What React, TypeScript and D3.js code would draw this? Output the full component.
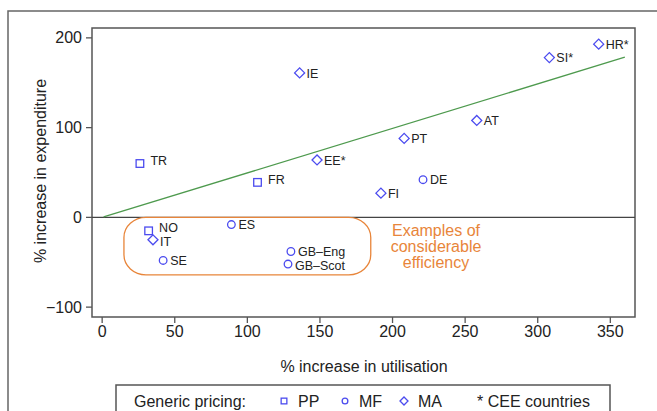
import React from "react";
import { scaleLinear, line } from "d3";

const countries = ["TR", "FR", "NO", "IE", "EE*", "PT", "AT", "SI*", "HR*", "FI", "IT", "DE", "ES", "SE", "GB–Eng", "GB–Scot"];
const utilisation = [26, 107, 32, 136, 148, 208, 258, 308, 342, 192, 35, 221, 89, 42, 130, 128];
const expenditure = [60, 39, -15, 161, 64, 88, 108, 178, 193, 27, -25, 42, -8, -48, -38, -52];
const pricing = ["PP", "PP", "PP", "MA", "MA", "MA", "MA", "MA", "MA", "MA", "MA", "MF", "MF", "MF", "MF", "MF"];

const xTicks = [0, 50, 100, 150, 200, 250, 300, 350];
const yTicks = [-100, 0, 100, 200];

// fitted line, roughly y = 0.5x
const trendX = [1, 360];
const trendY = [0.5, 178.5];

// the orange "efficiency" box, in data units
const boxX = [15, 185];
const boxY = [0, -64];
const noteLines = ["Examples of", "considerable", "efficiency"];

const legendItems = ["PP", "MF", "MA"];

const width = 657;
const height = 411;
const plot = { left: 92, top: 28, right: 635, bottom: 317 };

const xScale = scaleLinear().domain([-7, 367]).range([plot.left, plot.right]);
const yScale = scaleLinear().domain([-111, 211]).range([plot.bottom, plot.top]);

const blue = "#4b4bef";
const orange = "#e8853a";
const green = "#4e9a4e";
const axisGray = "#555";
const font = "Liberation Sans, Arial, sans-serif";

// small label nudges where labels crowd each other
const nudge: Record<string, number> = { NO: -1, IT: 1.5, "GB–Eng": -0.5, "GB–Scot": 1 };

function Marker({ type, x, y, s = 1 }: { type: string; x: number; y: number; s?: number }) {
  if (type === "PP") {
    const h = 3.8 * s;
    return <rect x={x - h} y={y - h} width={2 * h} height={2 * h} fill="none" stroke={blue} strokeWidth={1.3} />;
  }
  if (type === "MF") {
    return <circle cx={x} cy={y} r={3.8 * s} fill="none" stroke={blue} strokeWidth={1.3} />;
  }
  const d = 5 * s;
  return (
    <path
      d={`M${x - d},${y}L${x},${y - d}L${x + d},${y}L${x},${y + d}Z`}
      fill="none"
      stroke={blue}
      strokeWidth={1.3}
    />
  );
}

export default function App() {
  const trend = line<number>()
    .x((d) => xScale(d))
    .y((_, i) => yScale(trendY[i]))(trendX);

  const bx0 = xScale(boxX[0]);
  const bx1 = xScale(boxX[1]);
  const by0 = yScale(boxY[0]);
  const by1 = yScale(boxY[1]);

  return (
    <svg
      width={width}
      height={height}
      viewBox={`0 0 ${width} ${height}`}
      style={{ position: "absolute", left: 0, top: 0, background: "white" }}
      fontFamily={font}
    >
      {/* outer frame */}
      <rect x={8} y={11} width={670} height={430} fill="none" stroke="#666" strokeWidth={1.5} />

      {/* plot box */}
      <rect
        x={plot.left}
        y={plot.top}
        width={plot.right - plot.left}
        height={plot.bottom - plot.top}
        fill="white"
        stroke={axisGray}
        strokeWidth={1.5}
      />

      {/* y axis */}
      {yTicks.map((t) => (
        <g key={t}>
          <line x1={plot.left - 6} x2={plot.left} y1={yScale(t)} y2={yScale(t)} stroke={axisGray} strokeWidth={1.3} />
          <text x={plot.left - 10} y={yScale(t) + 5.5} textAnchor="end" fontSize={16} fill="#222">
            {t < 0 ? `−${Math.abs(t)}` : t}
          </text>
        </g>
      ))}
      {/* x axis */}
      {xTicks.map((t) => (
        <g key={t}>
          <line x1={xScale(t)} x2={xScale(t)} y1={plot.bottom} y2={plot.bottom + 6} stroke={axisGray} strokeWidth={1.3} />
          <text x={xScale(t)} y={plot.bottom + 20} textAnchor="middle" fontSize={16} fill="#222">
            {t}
          </text>
        </g>
      ))}

      <text x={364} y={372} textAnchor="middle" fontSize={16} fill="#222">
        % increase in utilisation
      </text>
      <text transform="translate(46,171) rotate(-90)" textAnchor="middle" fontSize={16} fill="#222">
        % increase in expenditure
      </text>

      {/* zero line */}
      <line x1={plot.left} x2={plot.right} y1={yScale(0)} y2={yScale(0)} stroke="#444" strokeWidth={1.3} />

      {/* efficiency box */}
      <rect x={bx0} y={by0} width={bx1 - bx0} height={by1 - by0} rx={22} ry={20} fill="none" stroke={orange} strokeWidth={1.3} />
      {noteLines.map((t, i) => (
        <text key={t} x={436} y={236 + i * 16} textAnchor="middle" fontSize={16} fill={orange}>
          {t}
        </text>
      ))}

      {/* trend line */}
      <path d={trend ?? ""} fill="none" stroke={green} strokeWidth={1.3} />

      {/* points */}
      {countries.map((c, i) => {
        const x = xScale(utilisation[i]);
        const y = yScale(expenditure[i]);
        const sq = pricing[i] === "PP";
        return (
          <g key={c}>
            <Marker type={pricing[i]} x={x} y={y} />
            <text x={x + (sq ? 10.5 : 7)} y={y + (sq ? 1.8 : 4.7) + (nudge[c] ?? 0)} fontSize={12.5} fill="#222">
              {c}
            </text>
          </g>
        );
      })}

      {/* legend */}
      <rect x={116} y={385} width={494} height={40} fill="white" stroke={axisGray} strokeWidth={1.5} />
      <text x={134} y={407} fontSize={16} fill="#222">
        Generic pricing:
      </text>
      {legendItems.map((k, i) => {
        const mx = [284, 345, 404][i];
        return (
          <g key={k}>
            <Marker type={k} x={mx} y={401} s={k === "MA" ? 0.8 : 0.75} />
            <text x={mx + 14} y={407} fontSize={16} fill="#222">
              {k}
            </text>
          </g>
        );
      })}
      <text x={477} y={407} fontSize={16} fill="#222">
        * CEE countries
      </text>
    </svg>
  );
}
